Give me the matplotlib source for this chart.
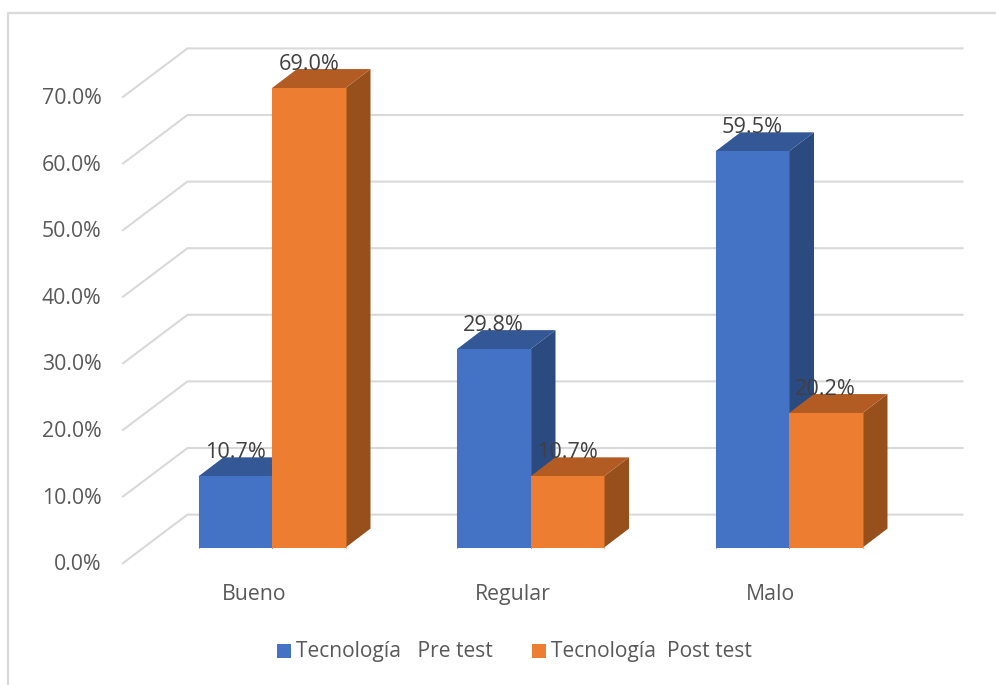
import matplotlib
matplotlib.use('Agg')
import matplotlib.pyplot as plt
from matplotlib.patches import Polygon, Rectangle

plt.rcParams['font.family'] = ['Open Sans', 'DejaVu Sans']

categorias = ['Bueno', 'Regular', 'Malo']
pre_test = [10.7, 29.8, 59.5]
post_test = [69.0, 10.7, 20.2]
ticks = [0, 10, 20, 30, 40, 50, 60, 70]
nombres = ['Tecnología   Pre test', 'Tecnología  Post test']

W, H = 996, 685
PX_CAT = 258.5    # pixeles por categoria
PX_PCT = 6.66     # pixeles por 1%
X0, Y0 = 272, 547.6
ANCHO = 73.5 / PX_CAT

fig = plt.figure(figsize=(W / 100, H / 100), dpi=100)
ax = fig.add_axes([0, 0, 1, 1])
ax.set_xlim(-X0 / PX_CAT, (W - X0) / PX_CAT)
ax.set_ylim(-(H - Y0) / PX_PCT, Y0 / PX_PCT)
ax.axis('off')


def px_x(p):
    return p / PX_CAT


def px_y(p):
    return p / PX_PCT


# marco exterior
ax.plot([px_x(8 - X0), px_x(8 - X0), px_x(W - X0)],
        [px_y(Y0 - H), px_y(Y0 - 12.5), px_y(Y0 - 12.5)],
        color='#D9D9D9', lw=1.6, zorder=1)

# lineas de la pared y piso
pared_dx, pared_dy = px_x(64.5), px_y(-15.5)
ini = px_x(123 - X0)
fin = px_x(962.5 - X0)
for t in ticks:
    y_frente = t + pared_dy
    y_fondo = t + px_y(33)
    ax.plot([ini, ini + pared_dx, fin], [y_frente, y_fondo, y_fondo],
            color='#D9D9D9', lw=1.5, zorder=1, solid_joinstyle='miter')
    ax.text(px_x(101.5 - X0), y_frente - px_y(1.5), '%.1f%%' % t, ha='right', va='center',
            fontsize=15.3, color='#595959')


def barra(x, v, frente, arriba, lado):
    dx, dy = px_x(25), px_y(19)
    ax.add_patch(Polygon([(x + ANCHO, 0), (x + ANCHO + dx, dy), (x + ANCHO + dx, v + dy), (x + ANCHO, v)],
                         facecolor=lado, edgecolor='none', zorder=3))
    ax.add_patch(Polygon([(x, v), (x + dx, v + dy), (x + ANCHO + dx, v + dy), (x + ANCHO, v)],
                         facecolor=arriba, edgecolor='none', zorder=3))
    ax.bar(x, v, width=ANCHO, align='edge', color=frente, edgecolor='none', zorder=3)
    ax.plot([x, x, x + ANCHO, x + ANCHO], [0, v, v, 0], color=frente, alpha=0.5, lw=0.8, zorder=3)


for i, cat in enumerate(categorias):
    barra(i - ANCHO, pre_test[i], '#4472C4', '#345796', '#2B4A80')
    barra(i, post_test[i], '#ED7D31', '#B25C23', '#97501C')
    ax.text(i - 0.07, px_y(-46.5), cat, ha='center', va='center', fontsize=15.3, color='#595959')

# etiquetas de valor encima de todo
for i in range(len(categorias)):
    ax.text(i - ANCHO / 2, pre_test[i] + px_y(23.5), '%.1f%%' % pre_test[i], ha='center', va='center',
            fontsize=15.6, color='#404040', zorder=5)
    ax.text(i + ANCHO / 2, post_test[i] + px_y(23.5), '%.1f%%' % post_test[i], ha='center', va='center',
            fontsize=15.6, color='#404040', zorder=5)

# leyenda
for x_cuadro, x_texto, color, nombre in [(277, 296, '#4472C4', nombres[0]), (532, 551, '#ED7D31', nombres[1])]:
    ax.add_patch(Rectangle((px_x(x_cuadro - X0), px_y(Y0 - 658)), px_x(14), px_y(14), facecolor=color, edgecolor='none'))
    ax.text(px_x(x_texto - X0), px_y(Y0 - 651), nombre, ha='left', va='center', fontsize=15.1, color='#595959')

fig.savefig('out.png', dpi=100)
